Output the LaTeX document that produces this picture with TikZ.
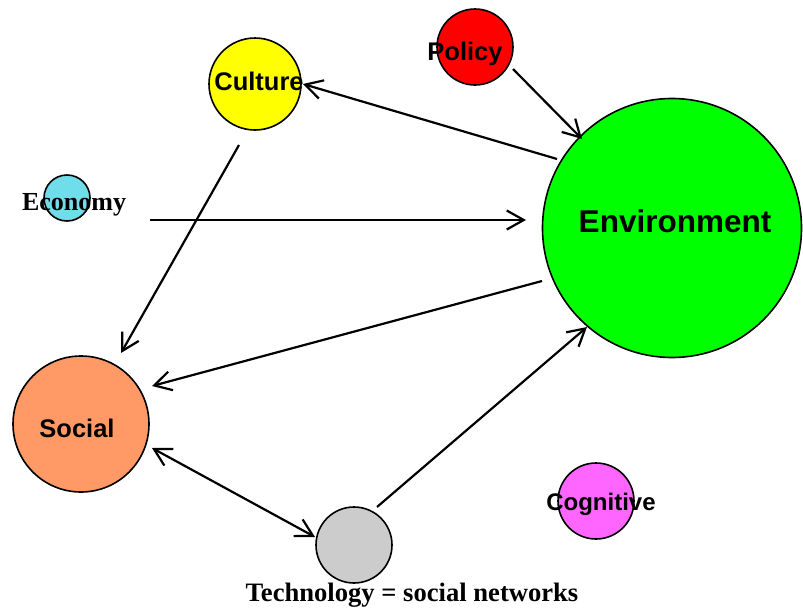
\documentclass[tikz,border=0pt]{standalone}
\usepackage{fontspec}
\setmainfont{Liberation Serif}
\setsansfont{Liberation Sans}
\usetikzlibrary{arrows.meta}
\definecolor{cpolicy}{HTML}{FF0000}
\definecolor{cculture}{HTML}{FFFF00}
\definecolor{ceconomy}{HTML}{70DDEB}
\definecolor{cenv}{HTML}{00FF00}
\definecolor{csocial}{HTML}{FF9966}
\definecolor{ctech}{HTML}{CCCCCC}
\definecolor{ccog}{HTML}{FF66FF}
\tikzset{
  ball/.style={circle, draw=black, line width=1.6pt, inner sep=0pt},
  sanslab/.style={font=\sffamily\bfseries\fontsize{25.5}{25.5}\selectfont, inner sep=0pt, anchor=base},
  seriflab/.style={font=\rmfamily\bfseries\fontsize{26}{26}\selectfont, inner sep=0pt, anchor=base},
  link/.style={line width=2.2pt, -{Straight Barb[length=17pt,width=19pt]}},
  link2/.style={line width=2.2pt, {Straight Barb[length=17pt,width=19pt]}-{Straight Barb[length=17pt,width=19pt]}},
}
\begin{document}
\begin{tikzpicture}[x=1pt,y=-1pt]
\useasboundingbox[fill=white] (0,0) rectangle (803,608);
% circles
\node[ball, fill=cpolicy,  minimum size=76pt]  (policy)  at (475,47) {};
\node[ball, fill=cculture, minimum size=92pt]  (culture) at (255,84) {};
\node[ball, fill=ceconomy, minimum size=46pt]  (economy) at (67,198) {};
\node[ball, fill=cenv,     minimum size=259pt] (env)     at (672,228) {};
\node[ball, fill=csocial,  minimum size=136pt] (social)  at (81,424) {};
\node[ball, fill=ctech,    minimum size=76pt]  (tech)    at (354,545) {};
\node[ball, fill=ccog,     minimum size=76pt]  (cog)     at (596,501) {};
% labels
\node[sanslab] (policyL)  at (465,60)  {Policy};
\node[sanslab] (cultureL) at (259,90)  {Culture};
\node[seriflab] (economyL) at (74,210) {Economy};
\node[sanslab, font=\sffamily\bfseries\fontsize{31.5}{31.5}\selectfont] (envL) at (675,232) {Environment};
\node[sanslab] (socialL)  at (77,437)  {Social};
\node[sanslab, font=\sffamily\bfseries\fontsize{24}{24}\selectfont] (cogL) at (601,510) {Cognitive};
\node[seriflab, font=\rmfamily\bfseries\fontsize{26.6}{26.6}\selectfont] (techL) at (412,601) {Technology = social networks};
% connector end points
\coordinate (polOut) at (513,69);
\coordinate (envInP) at (582,139);
\coordinate (envOutC) at (557,159);
\coordinate (culIn) at (303,84);
\coordinate (culOut) at (239,145);
\coordinate (socInC) at (121,353);
\coordinate (ecoOut) at (150,220);
\coordinate (envInE) at (526,220);
\coordinate (envOutS) at (542,281);
\coordinate (socInE) at (152,386);
\coordinate (socT) at (152,448);
\coordinate (techS) at (315,537);
\coordinate (techOut) at (377,507);
\coordinate (envInT) at (587,327);
% connectors
\draw[link] (polOut) -- (envInP);
\draw[link] (envOutC) -- (culIn);
\draw[link] (culOut) -- (socInC);
\draw[link] (ecoOut) -- (envInE);
\draw[link] (envOutS) -- (socInE);
\draw[link2] (socT) -- (techS);
\draw[link] (techOut) -- (envInT);
\end{tikzpicture}
\end{document}
